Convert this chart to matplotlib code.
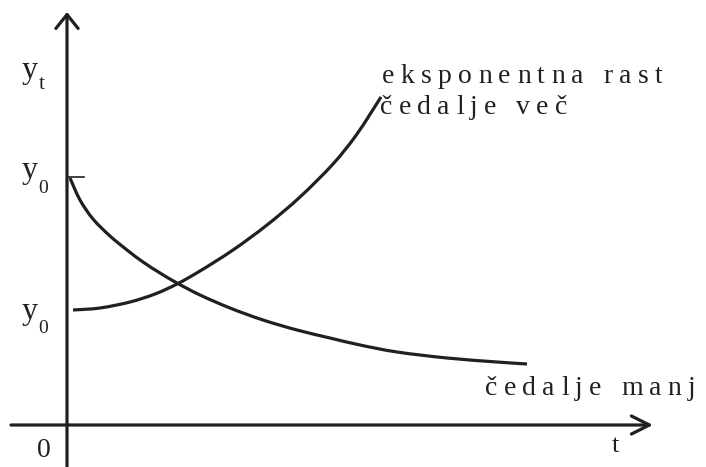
import matplotlib
matplotlib.use("Agg")
import matplotlib.pyplot as plt
import matplotlib.transforms as mtransforms
from matplotlib.path import Path
from matplotlib.patches import PathPatch

# values (t, y in the drawing's own units)
decay_t = [3, 13, 26, 43, 60, 76, 93, 110, 133, 163, 196, 230, 263, 293, 330, 380, 430, 460]
decay_y = [247, 225, 206, 189, 175, 163, 152, 142, 130, 117, 105, 95, 87, 80, 73, 67, 63, 61]
growth_t = [6, 33, 63, 88, 110, 133, 166, 200, 233, 266, 290, 314]
growth_y = [115, 117, 123, 131, 141, 154, 175, 200, 228, 261, 291, 328]
y0_high = 248
label_grow = ["eksponentna rast", "čedalje več"]
label_decay = "čedalje manj"

ink = "#231f20"
serif = ["Liberation Serif", "DejaVu Serif"]

fig = plt.figure(figsize=(7.06, 4.67), dpi=100)
ax = fig.add_axes([0, 0, 1, 1])
ax.set_xlim(-67, 639)
ax.set_ylim(-42, 425)
ax.axis("off")

# axes with open arrow heads
ax.annotate("", xy=(0, 413), xytext=(0, -42),
            arrowprops=dict(arrowstyle="->,head_length=1.0,head_width=0.8",
                            lw=2.3, color=ink, shrinkA=0, shrinkB=0, mutation_scale=10))
ax.annotate("", xy=(586, 0), xytext=(-56, 0),
            arrowprops=dict(arrowstyle="->,head_length=1.3,head_width=0.65",
                            lw=2.3, color=ink, shrinkA=0, shrinkB=0, mutation_scale=10))


def smooth_curve(xs, ys):
    # catmull-rom through the read points, drawn as cubic bezier pieces
    pts = list(zip(xs, ys))
    verts = [pts[0]]
    codes = [Path.MOVETO]
    for i in range(len(pts) - 1):
        p0 = pts[max(i - 1, 0)]
        p1 = pts[i]
        p2 = pts[i + 1]
        p3 = pts[min(i + 2, len(pts) - 1)]
        c1 = (p1[0] + (p2[0] - p0[0]) / 6, p1[1] + (p2[1] - p0[1]) / 6)
        c2 = (p2[0] - (p3[0] - p1[0]) / 6, p2[1] - (p3[1] - p1[1]) / 6)
        verts += [c1, c2, p2]
        codes += [Path.CURVE4] * 3
    ax.add_patch(PathPatch(Path(verts, codes), fill=False, edgecolor=ink, lw=2.3,
                           capstyle="butt"))


smooth_curve(decay_t, decay_y)
smooth_curve(growth_t, growth_y)
ax.plot([0, 17], [y0_high, y0_high], color=ink, lw=1.2)

fig.canvas.draw()
renderer = fig.canvas.get_renderer()


def spaced_text(x, y, s, gap, size):
    dx = 0
    for ch in s:
        tr = mtransforms.offset_copy(ax.transData, fig=fig, x=dx, y=0, units="dots")
        if ch == " ":
            dx += 0.25 * size * fig.dpi / 72 + gap
            continue
        t = ax.text(x, y, ch, transform=tr, fontsize=size, family=serif,
                    color=ink, ha="left", va="baseline")
        dx += t.get_window_extent(renderer).width + gap


spaced_text(315, 342, label_grow[0], 6.3, 20)
spaced_text(313, 311, label_grow[1], 6.3, 20)
spaced_text(418, 30, label_decay, 6.3, 20)


# axis labels
def lab(x, y, s, size):
    ax.text(x, y, s, fontsize=size, family=serif, color=ink, ha="left", va="baseline")


lab(-45, 347, "y", 23)
lab(-28, 336, "t", 16)
lab(-45, 247, "y", 23)
lab(-29, 232, "0", 14)
lab(-45, 106, "y", 23)
lab(-29, 92, "0", 14)
lab(-30, -32, "0", 20)
lab(545, -27, "t", 19)

fig.savefig("out.png", dpi=100)
